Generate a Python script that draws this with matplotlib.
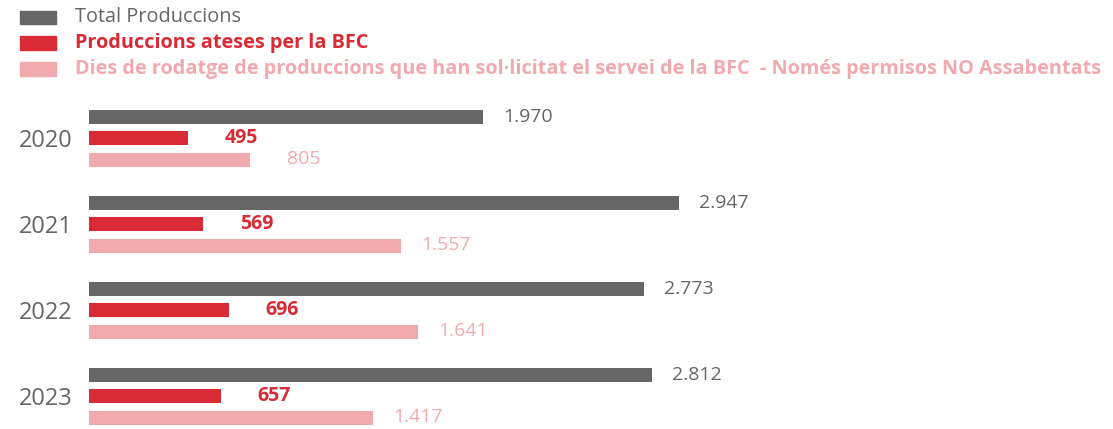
import matplotlib

matplotlib.use("Agg")
import matplotlib.pyplot as plt
from matplotlib.patches import Rectangle
import numpy as np

plt.rcParams["font.family"] = ["Open Sans", "DejaVu Sans"]

years = ["2020", "2021", "2022", "2023"]
total = [1970, 2947, 2773, 2812]
ateses = [495, 569, 696, 657]
dies = [805, 1557, 1641, 1417]
legend_labels = [
    "Total Produccions",
    "Produccions ateses per la BFC",
    "Dies de rodatge de produccions que han sol·licitat el servei de la BFC  - Només permisos NO Assabentats",
]

GRAY = "#666666"
RED = "#d92b36"
PINK = "#f0aaae"

W, H = 1113, 429
fig = plt.figure(figsize=(W / 100, H / 100), dpi=100)

# axes placed so that 0 sits at x=89px and 1 unit = 0.2px
x0 = 89.3
ax = fig.add_axes([x0 / W, 0, 1000 / W, 1])
ax.set_xlim(0, 5000)
ax.set_ylim(429 / 86 - 138 / 86, -138 / 86)

pos = np.arange(len(years))
off = 21.5 / 86
bh = 14 / 86
label_gap = 350

series = [
    (total, GRAY, "normal", -off),
    (ateses, RED, "bold", 0),
    (dies, PINK, "normal", off),
]
for vals, col, weight, dy in series:
    ax.barh(pos + dy, vals, height=bh, color=col)
    for p, v in zip(pos, vals):
        txt = f"{v:,}".replace(",", ".")
        ax.text(v + label_gap, p + dy, txt, ha="right", va="center",
                fontsize=14, color=col, fontweight=weight)

ax.set_yticks(pos)
ax.set_yticklabels(years, fontsize=17, color=GRAY)
ax.tick_params(axis="y", length=0, pad=12)
ax.set_xticks([])
for s in ax.spines.values():
    s.set_visible(False)

# legend drawn by hand at the top
leg_y = [17.3, 43, 69]
leg_cols = [GRAY, RED, PINK]
leg_weights = ["normal", "bold", "bold"]
for y, col, lab, wt in zip(leg_y, leg_cols, legend_labels, leg_weights):
    fig.patches.append(Rectangle((20 / W, 1 - (y + 6.7) / H), 36 / W, 13.4 / H,
                                 transform=fig.transFigure, color=col))
    fig.text(75 / W, 1 - y / H, lab, ha="left", va="center", fontsize=14.3,
             color=col, fontweight=wt)

fig.savefig("out.png", dpi=100)
